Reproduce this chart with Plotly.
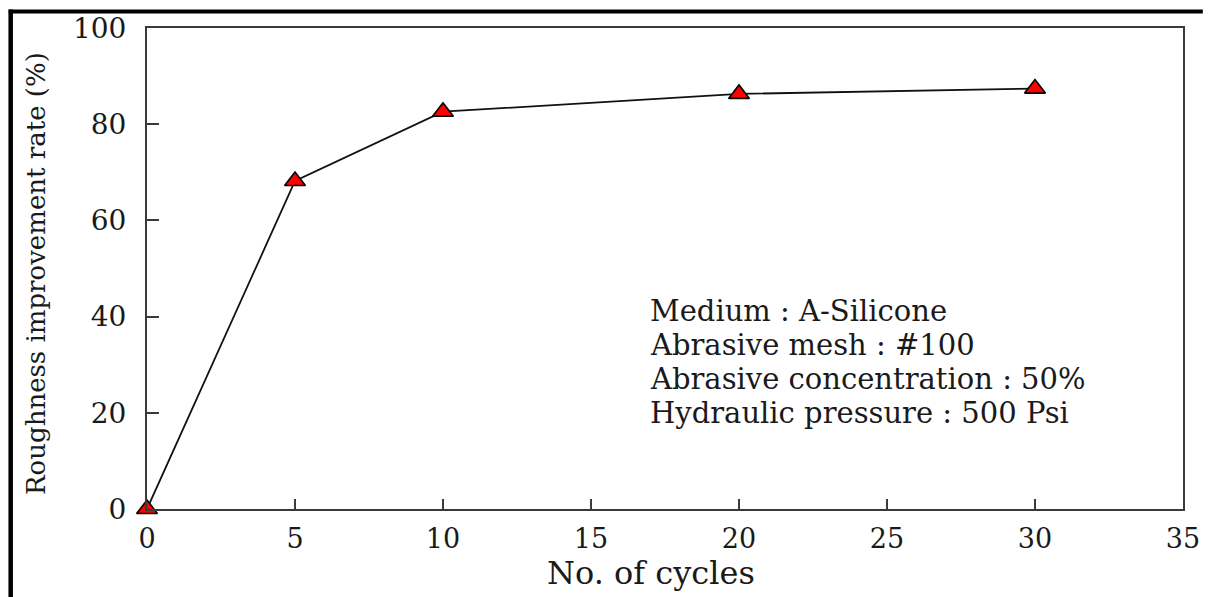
import plotly.graph_objects as go

# ---- data ----
cycles = [0, 5, 10, 20, 30]
improvement = [0, 68.2, 82.6, 86.3, 87.4]
x_ticks = [0, 5, 10, 15, 20, 25, 30, 35]
y_ticks = [0, 20, 40, 60, 80, 100]
x_title = "No. of cycles"
y_title = "Roughness improvement rate (%)"
notes = [
    "Medium : A-Silicone",
    "Abrasive mesh : #100",
    "Abrasive concentration : 50%",
    "Hydraulic pressure : 500 Psi",
]

# ---- layout geometry (pixels) ----
W, H = 1212, 597
L, R, T, B = 147, 20, 28, 88
PW, PH = W - L - R, H - T - B
FONT = "DejaVu Serif"
AX = "#3a3a3a"
TXT = "#1a1a1a"


def px(xp):
    return (xp - L) / PW


def py(yp):
    return (H - B - yp) / PH


fig = go.Figure()
fig.add_trace(go.Scatter(
    x=cycles, y=improvement, mode="lines+markers",
    line=dict(color="#111111", width=1.8),
    marker=dict(symbol="triangle-up", size=18, color="#ff0000",
                line=dict(color="#000000", width=1.6)),
    cliponaxis=False, showlegend=False,
))

annotations = []
note_y = [311, 345, 379, 413]
for txt, yy in zip(notes, note_y):
    annotations.append(dict(
        text=txt, xref="paper", yref="paper", x=px(652), y=py(yy),
        xanchor="left", yanchor="middle", showarrow=False,
        font=dict(family=FONT, size=29, color=TXT),
    ))
annotations.append(dict(
    text=x_title, xref="paper", yref="paper", x=px(655), y=py(594),
    xanchor="center", yanchor="bottom", showarrow=False,
    font=dict(family=FONT, size=32, color=TXT),
))
annotations.append(dict(
    text=y_title, xref="paper", yref="paper", x=px(35), y=py(273),
    xanchor="center", yanchor="middle", showarrow=False, textangle=-90,
    font=dict(family=FONT, size=26, color=TXT),
))

shapes = [
    dict(type="line", xref="paper", yref="paper",
         x0=px(7.5), x1=px(W), y0=py(11.5), y1=py(11.5),
         line=dict(color="#000000", width=4)),
    dict(type="line", xref="paper", yref="paper",
         x0=px(9.5), x1=px(9.5), y0=py(9.5), y1=py(H),
         line=dict(color="#000000", width=4.5)),
]

fig.update_layout(
    width=W, height=H,
    margin=dict(l=L, r=R, t=T, b=B, pad=0),
    paper_bgcolor="white", plot_bgcolor="white",
    annotations=annotations, shapes=shapes,
    xaxis=dict(
        range=[0, 35], tickvals=x_ticks, ticktext=[str(v) for v in x_ticks],
        ticks="inside", ticklen=10, tickwidth=1.5, tickcolor=AX,
        showline=True, linecolor=AX, linewidth=2, mirror=True,
        showgrid=False, zeroline=False, ticklabelstandoff=5,
        tickfont=dict(family=FONT, size=27, color=TXT),
    ),
    yaxis=dict(
        range=[0, 100], tickvals=y_ticks, ticktext=[str(v) for v in y_ticks],
        ticks="inside", ticklen=12, tickwidth=1.5, tickcolor=AX,
        showline=True, linecolor=AX, linewidth=2, mirror=True,
        showgrid=False, zeroline=False, ticklabelstandoff=13,
        tickfont=dict(family=FONT, size=28, color=TXT),
    ),
)

fig.write_html(
    "out.html",
    post_script="document.documentElement.style.overflow='hidden';"
                "document.body.style.overflow='hidden';",
)
